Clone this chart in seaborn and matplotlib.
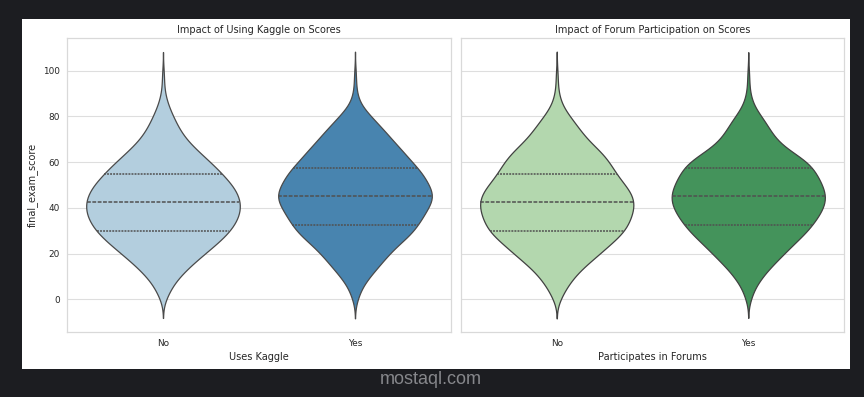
import numpy as np
import pandas as pd
import matplotlib
matplotlib.use("Agg")
import matplotlib.pyplot as plt
from matplotlib.patches import Rectangle
import seaborn as sns

# ---- data (score levels and how many students sit at each level) ----
SCORE_LEVELS = [0, 2.5, 5, 7.5, 10, 12.5, 15, 17.5, 20, 22.5, 25, 27.5, 30, 32.5,
                35, 37.5, 40, 42.5, 45, 47.5, 50, 52.5, 55, 57.5, 60, 62.5, 65,
                67.5, 70, 72.5, 75, 77.5, 80, 82.5, 85, 87.5, 90, 92.5, 95, 97.5, 100]

KAGGLE_NO = [3, 5, 8, 11, 16, 21, 27, 33, 40, 46, 53, 59, 64, 68, 71, 73, 74, 74,
             72, 70, 66, 61, 56, 51, 45, 39, 33, 27, 22, 18, 15, 12, 10, 7, 5, 3,
             2, 1, 1, 1, 1]
KAGGLE_YES = [3, 4, 6, 10, 14, 19, 24, 28, 33, 38, 44, 52, 57, 60, 64, 67, 70, 74,
              77, 74, 71, 68, 65, 61, 54, 50, 46, 40, 35, 31, 26, 20, 16, 10, 5, 3,
              2, 1, 1, 1, 1]
FORUM_NO = [4, 6, 9, 13, 17, 22, 28, 35, 42, 47, 54, 61, 66, 69, 71, 73, 75, 75,
            74, 71, 66, 61, 57, 54, 51, 47, 42, 35, 29, 25, 21, 17, 13, 8, 5, 3,
            2, 1, 1, 1, 1]
FORUM_YES = [3, 4, 6, 10, 14, 18, 24, 29, 35, 40, 46, 52, 58, 62, 66, 70, 73, 75,
             76, 74, 72, 69, 66, 63, 59, 50, 40, 32, 27, 23, 20, 17, 13, 8, 5, 3,
             2, 1, 1, 1, 1]

CATEGORIES = ["No", "Yes"]
TITLES = ["Impact of Using Kaggle on Scores", "Impact of Forum Participation on Scores"]
XLABELS = ["Uses Kaggle", "Participates in Forums"]
YLABEL = "final_exam_score"


def build(no_counts, yes_counts, col):
    levels = np.array(SCORE_LEVELS, dtype=float)
    no_vals = np.repeat(levels, no_counts)
    yes_vals = np.repeat(levels, yes_counts)
    return pd.DataFrame({
        col: ["No"] * len(no_vals) + ["Yes"] * len(yes_vals),
        "final_exam_score": np.concatenate([no_vals, yes_vals]),
    })


df_kaggle = build(KAGGLE_NO, KAGGLE_YES, "uses_kaggle")
df_forum = build(FORUM_NO, FORUM_YES, "participates_in_forums")

sns.set_theme(style="whitegrid")
plt.rcParams["font.family"] = ["DejaVu Sans"]

W, H = 864, 397
fig = plt.figure(figsize=(W / 100, H / 100), dpi=100, facecolor="#1c1d21")
fig.patches.append(Rectangle((22 / W, 1 - 369 / H), (850 - 22) / W, (369 - 19) / H,
                             transform=fig.transFigure, facecolor="white",
                             edgecolor="none", zorder=-10))

top, bot = 38.3, 331.7
ax1 = fig.add_axes([67 / W, 1 - bot / H, 384 / W, (bot - top) / H])
ax2 = fig.add_axes([461 / W, 1 - bot / H, 383 / W, (bot - top) / H], sharey=ax1)

common = dict(y="final_exam_score", order=CATEGORIES, hue_order=CATEGORIES,
              inner="quart", legend=False, linewidth=0.9, bw_adjust=0.85, cut=2.3,
              inner_kws=dict(linewidth=1.1, color="#505050"))
sns.violinplot(data=df_kaggle, x="uses_kaggle", hue="uses_kaggle",
               palette="Blues", ax=ax1, **common)
sns.violinplot(data=df_forum, x="participates_in_forums", hue="participates_in_forums",
               palette="Greens", ax=ax2, **common)

for ax, title, xl in zip([ax1, ax2], TITLES, XLABELS):
    ax.set_title(title, fontsize=7, color=".15", pad=4)
    ax.set_xlabel(xl, fontsize=7, color=".15", labelpad=3)
    ax.tick_params(axis="both", labelsize=6.4, colors=".15", length=0, pad=5.2)
    ax.grid(axis="y", color=".87", linewidth=0.8)
    ax.grid(axis="x", visible=False)
    for sp in ax.spines.values():
        sp.set_color(".85")
        sp.set_linewidth(0.9)

ax1.set_ylabel(YLABEL, fontsize=7, color=".15", labelpad=4)
ax2.set_ylabel("")
ax2.tick_params(axis="y", labelleft=False)

fig.text(431 / W, 1 - 380 / H, "mostaql.com", ha="center", va="center",
         fontsize=13, color="#86878b", family=["Liberation Sans", "DejaVu Sans"])

fig.savefig("out.png", dpi=100, facecolor=fig.get_facecolor())
